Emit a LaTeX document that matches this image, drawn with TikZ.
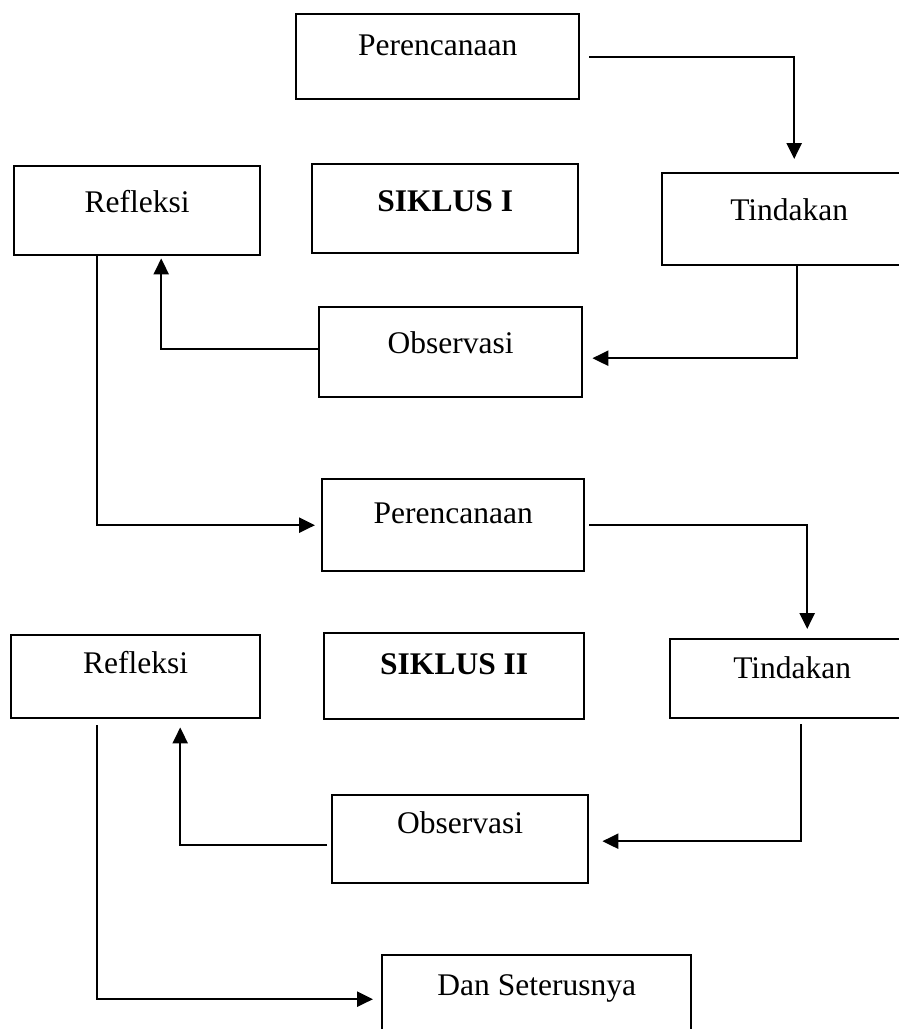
\documentclass[tikz,border=0pt]{standalone}
\usepackage{fontspec}
\setmainfont{Liberation Serif}
\usetikzlibrary{arrows.meta}
\tikzset{
  box/.style={draw, line width=2.4pt, inner sep=0pt, anchor=north west,
    font=\fontsize{31.5}{36}\selectfont},
  arr/.style={line width=2.4pt, -{Triangle[length=16pt,width=15pt]}},
}
\newcommand{\bx}[7]{% name, x, top, W, H, baseline, text
  \node[box, minimum width=#4pt, minimum height=#5pt, text height=#6pt,
    text depth={#5pt-#6pt}] (#1) at (#2,#3) {#7};}
\begin{document}
\begin{tikzpicture}[x=1pt,y=-1pt]
\useasboundingbox (0,0) rectangle (898,1029);
\bx{p1}{295}{13}{283}{85}{41}{Perencanaan}
\bx{r1}{13}{165}{246}{89}{46}{Refleksi}
\bx{s1}{311}{163}{266}{89}{47}{\textbf{SIKLUS I}}
\bx{t1}{661}{172}{254}{92}{47}{Tindakan}
\bx{o1}{318}{306}{263}{90}{46}{Observasi}
\bx{p2}{321}{478}{262}{92}{44}{Perencanaan}
\bx{r2}{10}{634}{249}{83}{38}{Refleksi}
\bx{s2}{323}{632}{260}{86}{41}{\textbf{SIKLUS II}}
\bx{t2}{669}{638}{244}{79}{39}{Tindakan}
\bx{o2}{331}{794}{256}{88}{38}{Observasi}
\bx{d}{381}{954}{309}{88}{40}{Dan Seterusnya}
% cycle I
\draw[arr] ([xshift=9pt]p1.east) -| ([xshift=5pt,yshift=13pt]t1.north);
\draw[arr] ([xshift=8pt]t1.south) |- ([xshift=9pt,yshift=-6pt]o1.east);
\draw[arr] ([yshift=3pt]o1.west) -| ([xshift=24pt,yshift=-2pt]r1.south);
\draw[arr] ([xshift=-40pt]r1.south) |- ([xshift=-6pt]p2.west);
% cycle II
\draw[arr] ([xshift=4pt]p2.east) -| ([xshift=15pt,yshift=9pt]t2.north);
\draw[arr] ([xshift=9pt,yshift=-5pt]t2.south) |- ([xshift=13pt,yshift=-2pt]o2.east);
\draw[arr] ([xshift=-4pt,yshift=-6pt]o2.west) -| ([xshift=44.5pt,yshift=-8pt]r2.south);
\draw[arr] ([xshift=-38.5pt,yshift=-6pt]r2.south) |- ([xshift=-8pt]d.west);
\end{tikzpicture}
\end{document}
